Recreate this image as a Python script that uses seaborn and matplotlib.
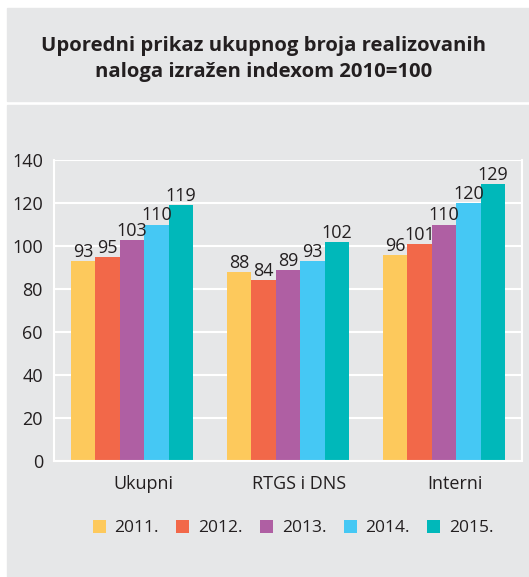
import pandas as pd
import matplotlib.pyplot as plt
import matplotlib.transforms as mtransforms
import seaborn as sns
from matplotlib.patches import Rectangle

categories = ["Ukupni", "RTGS i DNS", "Interni"]
years = ["2011.", "2012.", "2013.", "2014.", "2015."]
values = {
    "2011.": [93, 88, 96],
    "2012.": [95, 84, 101],
    "2013.": [103, 89, 110],
    "2014.": [110, 93, 120],
    "2015.": [119, 102, 129],
}
colors = ["#FDC95C", "#F26849", "#AF5FA3", "#45C8F4", "#00B8BA"]
bg = "#E6E7E8"

rows = []
for y in years:
    for c, v in zip(categories, values[y]):
        rows.append({"Kategorija": c, "Godina": y, "Index": v})
data = pd.DataFrame(rows)

sns.set_style("white")
plt.rcParams["font.family"] = ["Open Sans", "DejaVu Sans"]

fig = plt.figure(figsize=(5.29, 5.77), dpi=100)
fig.patch.set_facecolor("white")
fig.patches.append(Rectangle((7 / 529, 1 - 101 / 577), 1, 93 / 577,
                             transform=fig.transFigure, color=bg, zorder=-1))
fig.patches.append(Rectangle((7 / 529, 0), 1, 1 - 105 / 577,
                             transform=fig.transFigure, color=bg, zorder=-1))
fig.text(0.498, 1 - 59 / 577, "Uporedni prikaz ukupnog broja realizovanih\nnaloga izražen indexom 2010=100",
         ha="center", va="center", fontsize=14.6, fontweight="bold", linespacing=1.35,
         color="#231f20")

ax = fig.add_axes([54 / 529, 1 - 461 / 577, 468 / 529, 301 / 577])
ax.set_facecolor(bg)
sns.barplot(data=data, x="Kategorija", y="Index", hue="Godina", palette=colors,
            width=0.78, ax=ax, saturation=1, linewidth=0, legend=True)

for cont in ax.containers:
    ax.bar_label(cont, fontsize=13, padding=0, color="#231f20")

ax.set_ylim(0, 140)
ax.set_xlim(-0.5, 2.5)
ax.set_yticks(range(0, 141, 20))
ax.set_xticks([-0.5, 0.5, 1.5, 2.5], minor=True)
ax.set_xticks(range(3))
ax.set_xticklabels(categories)
ax.tick_params(axis="x", which="major", length=0, pad=10, labelsize=13, labelcolor="#231f20")
ax.tick_params(axis="x", which="minor", length=5, color="white", width=1.5)
ax.tick_params(axis="y", length=5, color="white", width=1.5, labelsize=13, labelcolor="#231f20", pad=3)
shift = mtransforms.ScaledTranslation(11 / 100, 0, fig.dpi_scale_trans)
for lbl in ax.get_xticklabels():
    lbl.set_transform(lbl.get_transform() + shift)
ax.grid(axis="y", color="white", linewidth=1.5)
ax.set_axisbelow(True)
for s in ["left", "bottom", "right"]:
    ax.spines[s].set_color("white")
    ax.spines[s].set_linewidth(1.5)
ax.spines["top"].set_visible(False)
ax.set_xlabel("")
ax.set_ylabel("")

handles, labels = ax.get_legend_handles_labels()
ax.legend_.remove()
fig.legend(handles, labels, loc="center", bbox_to_anchor=(0.554, 1 - 528 / 577), ncol=5,
           frameon=False, fontsize=12.5, handlelength=0.75, handleheight=0.75,
           handletextpad=0.5, columnspacing=1.0, labelcolor="#231f20")

fig.savefig("out.png", dpi=100, facecolor=fig.get_facecolor())
